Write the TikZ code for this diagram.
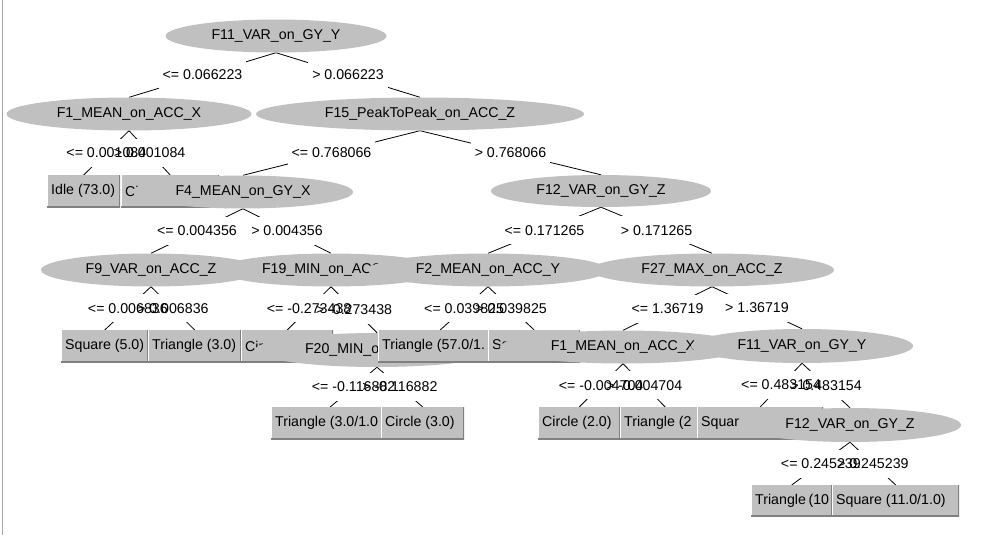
\documentclass[tikz,border=0pt]{standalone}
\usepackage{fontspec}
\setmainfont{Liberation Sans}
\usetikzlibrary{shapes.geometric}
\definecolor{nodegray}{RGB}{192,192,192}
\definecolor{shadegray}{RGB}{128,128,128}
\definecolor{framegray}{RGB}{165,165,165}
\pgfdeclarelayer{edgelayer}
\pgfdeclarelayer{labelbg}
\pgfdeclarelayer{labeltext}
\pgfsetlayers{edgelayer,labelbg,labeltext,main}
% parent, child, test
\newcommand{\cond}[3]{%
  \begin{pgfonlayer}{edgelayer}
    \draw[edgeline] (#1.south) -- coordinate (#1-#2) (#2.north);
  \end{pgfonlayer}
  \begin{pgfonlayer}{labelbg}
    \node[condbg] at (#1-#2) {\phantom{#3}};
  \end{pgfonlayer}
  \begin{pgfonlayer}{labeltext}
    \node[condtext] at (#1-#2) {#3};
  \end{pgfonlayer}}

\begin{document}
\begin{tikzpicture}[x=1pt,y=-1pt,% one unit = one pixel of the tree view
    every node/.style={font=\fontsize{14.2}{17}\selectfont},
    attr/.style={ellipse,fill=nodegray,inner sep=0pt,minimum height=33pt,minimum width=#1},
    leaf/.style={rectangle,fill=nodegray,anchor=north west,inner sep=0pt,
      minimum height=32pt,minimum width=#1,
      execute at begin node={\hbox to \dimexpr#1-8pt\relax\bgroup},
      execute at end node={\hfil\egroup},
      path picture={% raised box
        \draw[white,line width=2pt] (path picture bounding box.south west) -- (path picture bounding box.north west);
        \draw[shadegray,line width=3pt] (path picture bounding box.south west) -- (path picture bounding box.south east) -- (path picture bounding box.north east);}},
    condbg/.style={fill=white,inner xsep=4pt,inner ysep=0pt,minimum height=28pt},
    condtext/.style={inner sep=0pt},
    edgeline/.style={draw=black,line width=0.8pt}
  ]
  \useasboundingbox (0,0) rectangle (996,536);
  \draw[framegray,line width=1.5pt] (2.5,0) -- (2.5,535);

  % nodes, drawn in tree order so later ones lie on top
  \node[attr=221pt] (f11) at (276,36) {F11\_VAR\_on\_GY\_Y};
  \node[attr=245pt] (f1a) at (129,114) {F1\_MEAN\_on\_ACC\_X};
  \node[leaf=73pt] (idle) at (47,175) {Idle (73.0)};
  \node[leaf=98pt] (ci) at (121,175) {Ci};
  \node[attr=328pt] (f15) at (420,114) {F15\_PeakToPeak\_on\_ACC\_Z};
  \node[attr=220pt] (f4) at (243,192) {F4\_MEAN\_on\_GY\_X};
  \node[attr=220pt] (f9) at (151,270) {F9\_VAR\_on\_ACC\_Z};
  \node[leaf=87pt] (sq5) at (61,330) {Square (5.0)};
  \node[leaf=93pt] (tri3) at (148,330) {Triangle (3.0)};
  \node[attr=226pt] (f19) at (331,270) {\makebox[138pt][l]{F19\_MIN\_on\_ACC\_}};
  \node[leaf=92pt] (cir) at (241,330) {Cir};
  \node[attr=244pt,minimum height=34pt] (f20) at (377,350) {\makebox[144pt][l]{F20\_MIN\_o}};
  \node[leaf=118pt] (tri31) at (271,407) {Triangle (3.0/1.0};
  \node[leaf=83pt] (circ3) at (381,407) {Circle (3.0)};
  \node[attr=220pt,minimum height=32pt] (f12a) at (601,191) {F12\_VAR\_on\_GY\_Z};
  \node[attr=240pt] (f2) at (488,270) {F2\_MEAN\_on\_ACC\_Y};
  \node[leaf=124pt] (tri57) at (378,330) {Triangle (57.0/1.};
  \node[leaf=92pt] (sq) at (488,330) {Sq};
  \node[attr=244pt] (f27) at (712,270) {F27\_MAX\_on\_ACC\_Z};
  \node[attr=246pt] (f1b) at (623,347) {F1\_MEAN\_on\_ACC\_X};
  \node[leaf=82pt] (circ2) at (538,407) {Circle (2.0)};
  \node[leaf=90pt] (tri2) at (620,407) {Triangle (2};
  \node[attr=222pt,minimum height=34pt] (f11b) at (802,346) {F11\_VAR\_on\_GY\_Y};
  \node[leaf=126pt] (squar) at (697,407) {Squar};
  \node[attr=222pt,minimum height=34pt] (f12b) at (850,425) {F12\_VAR\_on\_GY\_Z};
  \node[leaf=81pt,minimum height=31pt] (tri10) at (751,485) {Triangle (10};
  \node[leaf=127pt,minimum height=31pt] (sq11) at (832,485) {Square (11.0/1.0)};

  % branches with their tests
  \cond{f11}{f1a}{<= 0.066223}
  \cond{f11}{f15}{> 0.066223}
  \cond{f1a}{idle}{<= 0.001084}
  \cond{f1a}{ci}{> 0.001084}
  \cond{f15}{f4}{<= 0.768066}
  \cond{f15}{f12a}{> 0.768066}
  \cond{f4}{f9}{<= 0.004356}
  \cond{f4}{f19}{> 0.004356}
  \cond{f9}{sq5}{<= 0.006836}
  \cond{f9}{tri3}{> 0.006836}
  \cond{f19}{cir}{<= -0.273438}
  \cond{f19}{f20}{> -0.273438}
  \cond{f20}{tri31}{<= -0.116882}
  \cond{f20}{circ3}{> -0.116882}
  \cond{f12a}{f2}{<= 0.171265}
  \cond{f12a}{f27}{> 0.171265}
  \cond{f2}{tri57}{<= 0.039825}
  \cond{f2}{sq}{> 0.039825}
  \cond{f27}{f1b}{<= 1.36719}
  \cond{f27}{f11b}{> 1.36719}
  \cond{f1b}{circ2}{<= -0.004704}
  \cond{f1b}{tri2}{> -0.004704}
  \cond{f11b}{squar}{<= 0.483154}
  \cond{f11b}{f12b}{> 0.483154}
  \cond{f12b}{tri10}{<= 0.245239}
  \cond{f12b}{sq11}{> 0.245239}
\end{tikzpicture}
\end{document}
